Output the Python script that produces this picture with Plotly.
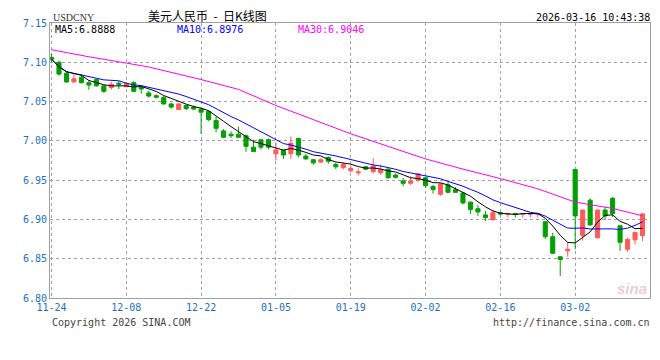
import plotly.graph_objects as go
import pandas as pd

# ---------------- data ----------------
dates = pd.bdate_range("2025-11-24", periods=80).strftime("%Y-%m-%d").tolist()

open_ = [7.106, 7.100, 7.086, 7.075, 7.081, 7.074, 7.078, 7.070, 7.068, 7.0735,
         7.069, 7.074, 7.068, 7.061, 7.0575, 7.055, 7.047, 7.040, 7.045, 7.043,
         7.0405, 7.0375, 7.026, 7.0127, 7.0085, 7.0085, 7.0065, 6.992, 7.0015, 7.0015,
         6.9835, 6.988, 6.9835, 7.003, 6.9806, 6.976, 6.973, 6.979, 6.9698, 6.966,
         6.962, 6.9593, 6.967, 6.9607, 6.9594, 6.964, 6.9565, 6.949, 6.946, 6.950,
         6.953, 6.942, 6.932, 6.944, 6.9378, 6.9336, 6.922, 6.9136, 6.9057, 6.900,
         6.9085, 6.9066, 6.9076, 6.9066, 6.9066, 6.9066, 6.897, 6.878, 6.8525, 6.860,
         6.9635, 6.8795, 6.9245, 6.8767, 6.912, 6.927, 6.892, 6.862, 6.874, 6.8795]
high = [7.111, 7.102, 7.088, 7.086, 7.085, 7.077, 7.079, 7.070, 7.075, 7.076,
        7.075, 7.076, 7.071, 7.064, 7.059, 7.057, 7.048, 7.048, 7.046, 7.045,
        7.042, 7.039, 7.031, 7.015, 7.012, 7.018, 7.008, 7.0015, 7.002, 7.003,
        6.998, 6.989, 7.0056, 7.004, 6.9835, 6.977, 6.978, 6.980, 6.9725, 6.9725,
        6.969, 6.965, 6.968, 6.978, 6.9698, 6.965, 6.9585, 6.953, 6.955, 6.959,
        6.9544, 6.9437, 6.946, 6.9475, 6.941, 6.9345, 6.923, 6.918, 6.9107, 6.912,
        6.909, 6.9078, 6.9078, 6.9078, 6.9078, 6.9078, 6.898, 6.883, 6.853, 6.871,
        6.9635, 6.912, 6.927, 6.9125, 6.916, 6.9286, 6.892, 6.8767, 6.884, 6.908]
low = [7.100, 7.083, 7.074, 7.074, 7.073, 7.065, 7.069, 7.061, 7.065, 7.066,
       7.068, 7.062, 7.060, 7.055, 7.054, 7.046, 7.041, 7.039, 7.039, 7.039,
       7.009, 7.025, 7.011, 7.004, 7.0035, 7.004, 6.986, 6.9856, 6.989, 6.989,
       6.975, 6.977, 6.977, 6.979, 6.976, 6.9695, 6.972, 6.971, 6.964, 6.9635,
       6.960, 6.9557, 6.9625, 6.9585, 6.9565, 6.952, 6.952, 6.942, 6.944, 6.948,
       6.940, 6.933, 6.930, 6.934, 6.934, 6.919, 6.907, 6.9045, 6.898, 6.898,
       6.905, 6.9025, 6.9025, 6.9025, 6.9025, 6.9025, 6.875, 6.856, 6.828, 6.8525,
       6.862, 6.873, 6.892, 6.876, 6.8995, 6.903, 6.860, 6.8587, 6.868, 6.8724]
close = [7.104, 7.085, 7.075, 7.079, 7.074, 7.071, 7.070, 7.063, 7.072, 7.072,
         7.073, 7.063, 7.066, 7.057, 7.0555, 7.047, 7.043, 7.047, 7.041, 7.0405,
         7.0365, 7.027, 7.016, 7.0045, 7.0065, 7.0045, 6.993, 6.9865, 6.992, 6.992,
         6.9885, 6.982, 6.997, 6.982, 6.977, 6.972, 6.976, 6.974, 6.967, 6.970,
         6.9648, 6.9605, 6.964, 6.968, 6.9636, 6.953, 6.9536, 6.946, 6.949, 6.958,
         6.943, 6.938, 6.9453, 6.9345, 6.9345, 6.921, 6.9128, 6.9095, 6.9024, 6.9086,
         6.9068, 6.9076, 6.9066, 6.9076, 6.9076, 6.9076, 6.878, 6.857, 6.849, 6.862,
         6.9045, 6.912, 6.893, 6.912, 6.9045, 6.9074, 6.871, 6.8745, 6.8836, 6.907]

ma30_idx = [0, 5, 10, 13, 20, 25, 30, 35, 40, 45, 50, 55, 60, 65, 70, 75, 79]
ma30_val = [7.116, 7.107, 7.099, 7.094, 7.078, 7.0655, 7.045, 7.027, 7.009,
            6.993, 6.977, 6.964, 6.952, 6.939, 6.922, 6.914, 6.9046]

tick_idx = [0, 10, 20, 30, 40, 50, 60, 70]
tick_text = ["11-24", "12-08", "12-22", "01-05", "01-19", "02-02", "02-16", "03-02"]
y_ticks = [6.80, 6.85, 6.90, 6.95, 7.00, 7.05, 7.10, 7.15]

legend_text = ["MA5:6.8888", "MA10:6.8976", "MA30:6.9046"]

# ---------------- styles ----------------
RED = "#ff5a5a"
GREEN = "#00a000"
AXBLUE = "#1a6fc8"
MONO = "DejaVu Sans Mono"

s = pd.Series(close)
ma5 = s.rolling(5, min_periods=1).mean().tolist()
ma10 = s.rolling(10, min_periods=1).mean().tolist()

fig = go.Figure()
fig.add_trace(go.Candlestick(
    x=dates, open=open_, high=high, low=low, close=close,
    increasing=dict(line=dict(color=RED, width=1), fillcolor=RED),
    decreasing=dict(line=dict(color=GREEN, width=1), fillcolor=GREEN),
    whiskerwidth=0, showlegend=False, hoverinfo="skip"))
fig.add_trace(go.Scatter(x=[dates[i] for i in ma30_idx], y=ma30_val, mode="lines",
                         line=dict(color="#ff00ff", width=1), showlegend=False, hoverinfo="skip"))
fig.add_trace(go.Scatter(x=dates, y=ma10, mode="lines",
                         line=dict(color="#0000ff", width=1), showlegend=False, hoverinfo="skip"))
fig.add_trace(go.Scatter(x=dates, y=ma5, mode="lines",
                         line=dict(color="#000000", width=1), showlegend=False, hoverinfo="skip"))

# page has an 8px body margin: figure is drawn from page pixel (8, 8)
OFF = 8
FW, FH = 660 - OFF, 360 - OFF
L, R, T, B = 50, 651, 18, 298          # plot area in page pixels
W, H = R - L, B - T


def px(x):
    return (x - L) / W


def py(y):
    return (B - y) / H


ann = []


def add(text, x, y, xa="left", size=10, color="#000", family=MONO):
    ann.append(dict(text=text, x=px(x), y=py(y), xref="paper", yref="paper",
                    xanchor=xa, yanchor="middle", showarrow=False,
                    font=dict(size=size, color=color, family=family)))


add("USDCNY", 51, 12, size=10, color="#333", family="Liberation Serif")
add("美元人民币  -  日K线图", 208, 10.5, xa="center", size=12, color="#000",
    family="Noto Sans CJK SC")
add("2026-03-16 10:43:38", 653, 12, xa="right", size=10, color="#000")
add(legend_text[0], 53, 25, color="#000")
add(legend_text[1], 175, 25, color="#0000ff")
add(legend_text[2], 296, 25, color="#ff00ff")
add("Copyright 2026 SINA.COM", 50, 323, color="#444")
add("http://finance.sina.com.cn", 653, 323, xa="right", color="#444")
ann.append(dict(text="<b><i>sina</i></b>", x=px(650), y=py(288), xref="paper", yref="paper",
                xanchor="right", yanchor="middle", showarrow=False,
                font=dict(size=15, color="rgba(215,140,140,0.45)", family="Liberation Sans")))

fig.update_layout(
    width=FW, height=FH,
    margin=dict(l=L - OFF, r=660 - R, t=T - OFF, b=360 - B, pad=0),
    paper_bgcolor="white", plot_bgcolor="white",
    annotations=ann, boxgap=0.22,
    xaxis=dict(type="category", range=[-0.2, 80.0], rangeslider=dict(visible=False),
               tickvals=[dates[i] for i in tick_idx], ticktext=tick_text,
               showgrid=True, gridcolor="#a0a0a0", griddash="dot", gridwidth=1,
               showline=True, linecolor="#a0a0a0", linewidth=1, mirror=True,
               ticks="", tickfont=dict(family=MONO, size=10, color=AXBLUE),
               zeroline=False, fixedrange=True),
    yaxis=dict(range=[6.80, 7.15], tickvals=y_ticks, ticktext=[f"{v:.2f}" for v in y_ticks],
               showgrid=True, gridcolor="#a0a0a0", griddash="dot", gridwidth=1,
               showline=True, linecolor="#a0a0a0", linewidth=1, mirror=True,
               ticks="", tickfont=dict(family=MONO, size=10, color=AXBLUE),
               zeroline=False, fixedrange=True),
)

fig.write_html("out.html")
